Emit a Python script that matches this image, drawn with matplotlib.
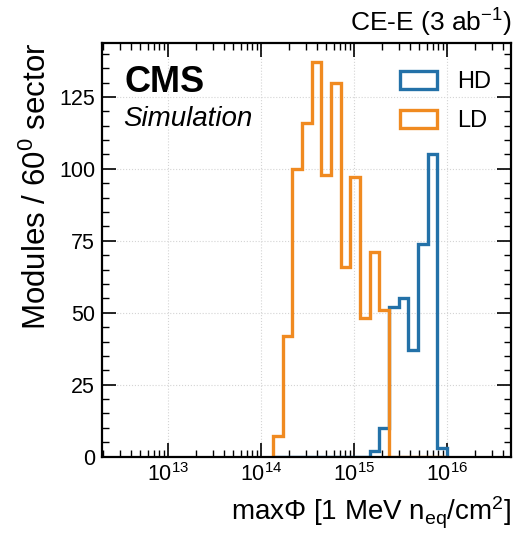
import numpy as np
import matplotlib
matplotlib.use("Agg")
from matplotlib import pyplot as plt
from matplotlib.patches import Patch
from matplotlib.ticker import MultipleLocator, LogLocator, NullFormatter

plt.rcParams["font.family"] = ["Liberation Sans", "DejaVu Sans"]
plt.rcParams["mathtext.fontset"] = "custom"
plt.rcParams["mathtext.rm"] = "Liberation Sans"
plt.rcParams["mathtext.it"] = "Liberation Sans:italic"
plt.rcParams["mathtext.bf"] = "Liberation Sans:bold"

# log-spaced fluence bins, 0.104 decades wide
edges = np.logspace(14.128, 16.0, 19)

# modules per bin
hd_counts = [0, 0, 0, 0, 0, 0, 0, 0, 0, 0, 2, 10, 52, 55, 37, 74, 105, 3]
ld_counts = [7, 42, 100, 116, 137, 98, 130, 66, 97, 48, 71, 51, 0, 0, 0, 0, 0, 0]

hd_color = "#2371a8"
ld_color = "#f08a20"

fig = plt.figure(figsize=(5.23, 5.35), dpi=100)
ax = fig.add_axes([0.195, 0.1465, 0.783, 0.7735])

ax.stairs(hd_counts, edges, color=hd_color, lw=2.4, baseline=0)
ax.stairs(ld_counts, edges, color=ld_color, lw=2.4, baseline=0)

ax.set_xscale("log")
ax.set_xlim(10**12.287, 10**16.692)
ax.set_ylim(0, 143.8)

ax.yaxis.set_major_locator(MultipleLocator(25))
ax.yaxis.set_minor_locator(MultipleLocator(5))
ax.xaxis.set_major_locator(LogLocator(base=10, numticks=20))
ax.xaxis.set_minor_locator(LogLocator(base=10, subs=np.arange(2, 10), numticks=20))
ax.xaxis.set_minor_formatter(NullFormatter())

ax.tick_params(which="both", direction="in", top=True, right=True, labelsize=15.5)
ax.tick_params(which="major", length=10, width=1.2, pad=5)
ax.tick_params(which="minor", length=5, width=1.0)
for s in ax.spines.values():
    s.set_linewidth(1.6)

ax.grid(True, which="major", color="#d4d4d4", ls=":", lw=0.8)
ax.set_axisbelow(True)

ax.set_xlabel(r"max$\Phi$ [1 MeV n$_{\mathrm{eq}}$/cm$^2$]", fontsize=20,
              loc="right", labelpad=6)
ax.set_ylabel(r"Modules / 60$^0$ sector", fontsize=22.5, loc="top", labelpad=4)

ax.text(0.055, 0.947, "CMS", transform=ax.transAxes, fontsize=26,
        fontweight="bold", va="top", ha="left")
ax.text(0.053, 0.848, "Simulation", transform=ax.transAxes, fontsize=20,
        style="italic", va="top", ha="left")
ax.set_title(r"CE-E (3 ab$^{-1}$)", loc="right", fontsize=19, pad=8)

handles = [Patch(facecolor="none", edgecolor=hd_color, lw=2.4, label="HD"),
           Patch(facecolor="none", edgecolor=ld_color, lw=2.4, label="LD")]
ax.legend(handles=handles, loc="upper right", bbox_to_anchor=(0.95, 0.933),
          frameon=False, fontsize=17, borderpad=0, borderaxespad=0,
          handlelength=1.55, handleheight=0.85, handletextpad=0.85,
          labelspacing=0.7)

fig.savefig("out.png", dpi=100)
